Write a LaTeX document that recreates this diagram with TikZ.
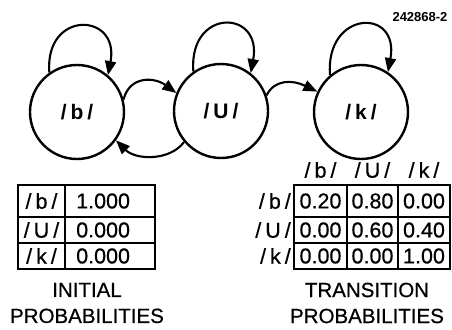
\documentclass[tikz,border=0pt]{standalone}
\usepackage{fontspec}
\setmainfont{Liberation Sans}
\usetikzlibrary{arrows.meta}
% phoneme label with widened slashes
\newcommand\phon[1]{/\kern4pt#1\kern4pt/}

\begin{document}
\begin{tikzpicture}[x=1pt,y=-1pt,
  state/.style={draw, circle, line width=2.4pt, minimum size=94pt, inner sep=0pt,
                font=\fontsize{21}{21}\selectfont\bfseries},
  trans/.style={line width=2.1pt, -{Triangle[length=14pt,width=11pt]}},
  cell/.style={font=\fontsize{21.5}{21.5}\selectfont\addfontfeature{FakeBold=0.6}, inner sep=0pt},
  caption/.style={font=\fontsize{20.5}{26}\selectfont\addfontfeature{FakeBold=0.6},
                  align=center, inner sep=0pt},
  outer/.style={line width=2.6pt},
  inner/.style={line width=1.4pt}]
\useasboundingbox (0,0) rectangle (452,329);

% figure number
\node[font=\fontsize{13}{13}\selectfont\bfseries] (fig) at (420,17) {242868-2};

% states
\node[state] (b) at (77,112) {\phon{b}};
\node[state] (U) at (221,111) {\phon{U}};
\node[state] (k) at (361,112) {\phon{k}};

% self transitions
\draw[trans] (b.125) .. controls +(-5,-63) and +(12,-63) .. (b.50);
\draw[trans] (U.125) .. controls +(-5,-64) and +(12,-64) .. (U.52);
\draw[trans] (k.130) .. controls +(-5,-65) and +(12,-65) .. (k.56);

% transitions between states
\draw[trans] (b.15) .. controls +(6,-24) and +(-22,-16) .. (U.158);
\draw[trans] (U.220) .. controls +(-14,19) and +(20,20) .. (b.-36);
\draw[trans] (U.19) .. controls +(8,-16) and +(-25,-12) .. (k.155);

% initial probabilities table
\draw[outer] (18,185) rectangle (155,269);
\draw[inner] (65,185) -- (65,269);
\draw[inner] (18,217) -- (155,217);
\draw[inner] (18,243) -- (155,243);
\node[cell] (ib) at (41.5,201) {\phon{b}};
\node[cell] (iU) at (41.5,230) {\phon{U}};
\node[cell] (ik) at (41.5,256) {\phon{k}};
\node[cell, anchor=west] (pb) at (76,201) {1.000};
\node[cell, anchor=west] (pU) at (76,230) {0.000};
\node[cell, anchor=west] (pk) at (76,256) {0.000};
\node[caption] (cap1) at (87,303) {INITIAL\\PROBABILITIES};

% transition probabilities table
\draw[outer] (294,185) rectangle (450,269);
\draw[inner] (347,185) -- (347,269);
\draw[inner] (398,185) -- (398,269);
\draw[inner] (294,217) -- (450,217);
\draw[inner] (294,243) -- (450,243);
\node[cell] (cb) at (320.5,170) {\phon{b}};
\node[cell] (cU) at (372.5,170) {\phon{U}};
\node[cell] (ck) at (424,170) {\phon{k}};
\node[cell, anchor=east] (rb) at (291,201) {\phon{b}};
\node[cell, anchor=east] (rU) at (291,230) {\phon{U}};
\node[cell, anchor=east] (rk) at (291,256) {\phon{k}};
\node[cell] (t11) at (320.5,201) {0.20};
\node[cell] (t12) at (372.5,201) {0.80};
\node[cell] (t13) at (424,201) {0.00};
\node[cell] (t21) at (320.5,230) {0.00};
\node[cell] (t22) at (372.5,230) {0.60};
\node[cell] (t23) at (424,230) {0.40};
\node[cell] (t31) at (320.5,256) {0.00};
\node[cell] (t32) at (372.5,256) {0.00};
\node[cell] (t33) at (424,256) {1.00};
\node[caption] (cap2) at (367,303) {TRANSITION\\PROBABILITIES};
\end{tikzpicture}
\end{document}
